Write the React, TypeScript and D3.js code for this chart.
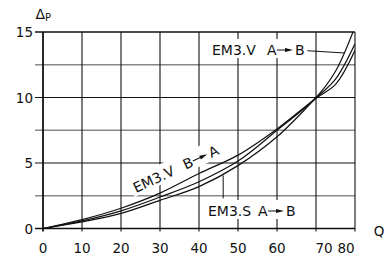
import React, { useRef, useEffect } from "react";
import * as d3 from "d3";

// flow Q and pressure drop readings per valve/direction
const flow = [0, 10, 20, 30, 40, 50, 60, 70, 75, 80];
const emvBtoA = [0, 0.68, 1.55, 2.7, 4.2, 5.6, 7.6, 9.95, 11.0, 13.6];
const emvAtoB = [0, 0.58, 1.35, 2.4, 3.57, 5.15, 7.5, 10.0, 12.0, 15.4];
const emsAtoB = [0, 0.5, 1.15, 2.15, 3.2, 4.8, 7.0, 9.95, 11.4, 14.1];

const xTickValues = [0, 10, 20, 30, 40, 50, 60, 70, 80];
const yTickValues = [0, 5, 10, 15];
const yHalfValues = [2.5, 7.5, 12.5];

const PressureChart = () => {
  const ref = useRef<SVGSVGElement>(null);

  const drawChart = () => {
    const svg = d3.select(ref.current);
    const font = "'DejaVu Sans', sans-serif";
    const ink = "#111";

    const x = d3.scaleLinear().domain([0, 80]).range([43, 355]);
    const y = d3.scaleLinear().domain([0, 15]).range([228.5, 32]);

    // half-step horizontal lines are grey
    svg.selectAll(".half")
      .data(yHalfValues)
      .enter().append("line")
      .attr("x1", x(0) - 8).attr("x2", x(80))
      .attr("y1", d => y(d)).attr("y2", d => y(d))
      .attr("stroke", "#888").attr("stroke-width", 1.3);

    svg.selectAll(".vgrid")
      .data(xTickValues)
      .enter().append("line")
      .attr("x1", d => x(d)).attr("x2", d => x(d))
      .attr("y1", y(15)).attr("y2", y(0) + 3)
      .attr("stroke", ink)
      .attr("stroke-width", d => (d === 0 ? 1.8 : 1.1));

    svg.selectAll(".hgrid")
      .data(yTickValues)
      .enter().append("line")
      .attr("x1", x(0) - 8).attr("x2", x(80))
      .attr("y1", d => y(d)).attr("y2", d => y(d))
      .attr("stroke", ink)
      .attr("stroke-width", d => (d === 0 || d === 15 ? 1.6 : 1.1));

    // tick labels
    const xShift: Record<number, number> = { 70: 8, 80: -9 };
    svg.selectAll(".xlab")
      .data(xTickValues)
      .enter().append("text")
      .attr("x", d => x(d) + (xShift[d] || 0))
      .attr("y", 253)
      .attr("text-anchor", "middle")
      .attr("font-family", font).attr("font-size", 13.5)
      .attr("fill", ink)
      .text(d => d);

    svg.selectAll(".ylab")
      .data(yTickValues)
      .enter().append("text")
      .attr("x", 33)
      .attr("y", d => y(d) + 5)
      .attr("text-anchor", "end")
      .attr("font-family", font).attr("font-size", 13.5)
      .attr("fill", ink)
      .text(d => d);

    svg.append("text")
      .attr("x", 379).attr("y", 236)
      .attr("text-anchor", "middle")
      .attr("font-family", font).attr("font-size", 13.5)
      .attr("fill", ink)
      .text("Q");

    const dp = svg.append("text")
      .attr("x", 35.5).attr("y", 18.5)
      .attr("font-family", font).attr("fill", ink);
    dp.append("tspan").attr("font-size", 14).text("Δ");
    dp.append("tspan").attr("font-size", 10).attr("dy", 2).text("P");

    // curves
    svg.append("clipPath").attr("id", "plot")
      .append("rect")
      .attr("x", x(0)).attr("y", y(15))
      .attr("width", x(80) - x(0)).attr("height", y(0) - y(15));

    const line = d3.line<number>()
      .x((d, i) => x(flow[i]))
      .y(d => y(d))
      .curve(d3.curveCatmullRom.alpha(0.5));

    [emvBtoA, emvAtoB, emsAtoB].forEach(series => {
      svg.append("path")
        .datum(series)
        .attr("d", line)
        .attr("clip-path", "url(#plot)")
        .attr("fill", "none")
        .attr("stroke", ink)
        .attr("stroke-width", 1.2);
    });

    // curve labels with white backing so grid lines break behind them
    const label = (tx, ty, angle, name, from, to, gap) => {
      const g = svg.append("g")
        .attr("transform", `translate(${tx},${ty}) rotate(${angle})`);
      g.append("rect")
        .attr("x", -3).attr("y", -16)
        .attr("width", gap + 42).attr("height", 19)
        .attr("fill", "#fff");
      const txt = (s, px) => g.append("text")
        .attr("x", px).attr("y", 0)
        .attr("font-family", font).attr("font-size", 14)
        .attr("fill", ink)
        .text(s);
      txt(name, 0);
      txt(from, gap);
      g.append("line")
        .attr("x1", gap + 10).attr("x2", gap + 19)
        .attr("y1", -5).attr("y2", -5)
        .attr("stroke", ink).attr("stroke-width", 1);
      g.append("path")
        .attr("d", `M${gap + 18},-7L${gap + 26},-5L${gap + 18},-3Z`)
        .attr("fill", ink);
      txt(to, gap + 28);
    };

    label(212, 55, 0, "EM3.V", "A", "B", 55);
    label(136, 193, -25, "EM3.V", "B", "A", 55);
    label(208, 216, 0, "EM3.S", "A", "B", 50);

    // leader lines
    svg.append("line")
      .attr("x1", x(67.8)).attr("y1", y(13.57))
      .attr("x2", x(77.2)).attr("y2", y(13.4))
      .attr("stroke", ink).attr("stroke-width", 1);
    svg.append("line")
      .attr("x1", x(46.2)).attr("y1", y(2.3))
      .attr("x2", x(46.2)).attr("y2", y(4.05))
      .attr("stroke", ink).attr("stroke-width", 1);
  };

  useEffect(() => {
    if (ref.current) {
      d3.select(ref.current).selectAll("*").remove();
      drawChart();
    }
  }, []);

  return (
    <svg
      ref={ref}
      width={390}
      height={256}
      style={{ position: "absolute", left: 0, top: 0, background: "#fff" }}
    />
  );
};

export default function App() {
  return <PressureChart />;
}
